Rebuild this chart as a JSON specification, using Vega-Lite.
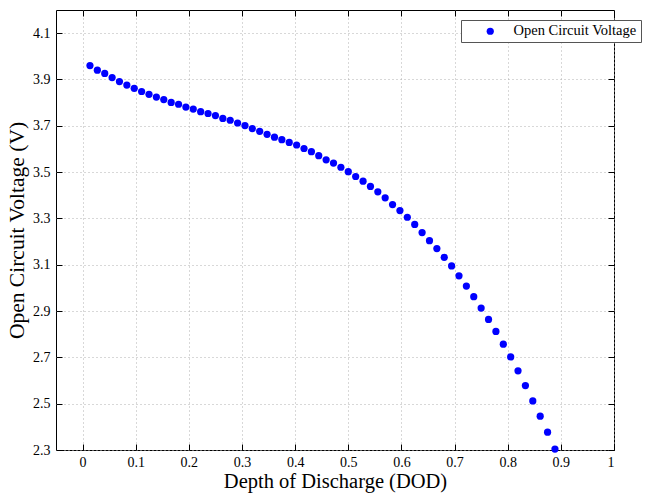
{
  "$schema": "https://vega.github.io/schema/vega-lite/v6.json",
  "width": 558,
  "height": 440,
  "autosize": "none",
  "padding": {"left": 56, "top": 10, "right": 33, "bottom": 46},
  "background": "white",
  "config": {
    "font": "Liberation Serif",
    "view": {"stroke": "black", "strokeWidth": 1},
    "axis": {
      "domain": false,
      "grid": true,
      "gridColor": "#b0b0b0",
      "gridDash": [1, 3],
      "gridWidth": 1,
      "tickColor": "black",
      "tickSize": -6,
      "labelFont": "Liberation Serif",
      "labelFontSize": 14,
      "labelColor": "black",
      "labelPadding": 12,
      "titleFont": "Liberation Serif",
      "titleFontWeight": "normal",
      "titleColor": "black"
    }
  },
  "data": {
    "values": [
      {"dod": 0.0139, "ocv": 3.960},
      {"dod": 0.0278, "ocv": 3.940},
      {"dod": 0.0417, "ocv": 3.926},
      {"dod": 0.0556, "ocv": 3.908},
      {"dod": 0.0694, "ocv": 3.891},
      {"dod": 0.0833, "ocv": 3.876},
      {"dod": 0.0972, "ocv": 3.862},
      {"dod": 0.1111, "ocv": 3.848},
      {"dod": 0.1250, "ocv": 3.836},
      {"dod": 0.1389, "ocv": 3.824},
      {"dod": 0.1528, "ocv": 3.813},
      {"dod": 0.1667, "ocv": 3.801},
      {"dod": 0.1806, "ocv": 3.793},
      {"dod": 0.1944, "ocv": 3.781},
      {"dod": 0.2083, "ocv": 3.772},
      {"dod": 0.2222, "ocv": 3.761},
      {"dod": 0.2361, "ocv": 3.753},
      {"dod": 0.2500, "ocv": 3.744},
      {"dod": 0.2639, "ocv": 3.732},
      {"dod": 0.2778, "ocv": 3.724},
      {"dod": 0.2917, "ocv": 3.712},
      {"dod": 0.3056, "ocv": 3.701},
      {"dod": 0.3194, "ocv": 3.688},
      {"dod": 0.3333, "ocv": 3.676},
      {"dod": 0.3472, "ocv": 3.663},
      {"dod": 0.3611, "ocv": 3.651},
      {"dod": 0.3750, "ocv": 3.640},
      {"dod": 0.3889, "ocv": 3.628},
      {"dod": 0.4028, "ocv": 3.617},
      {"dod": 0.4167, "ocv": 3.602},
      {"dod": 0.4306, "ocv": 3.588},
      {"dod": 0.4444, "ocv": 3.571},
      {"dod": 0.4583, "ocv": 3.553},
      {"dod": 0.4722, "ocv": 3.539},
      {"dod": 0.4861, "ocv": 3.521},
      {"dod": 0.5000, "ocv": 3.502},
      {"dod": 0.5139, "ocv": 3.481},
      {"dod": 0.5278, "ocv": 3.461},
      {"dod": 0.5417, "ocv": 3.438},
      {"dod": 0.5556, "ocv": 3.415},
      {"dod": 0.5694, "ocv": 3.389},
      {"dod": 0.5833, "ocv": 3.360},
      {"dod": 0.5972, "ocv": 3.334},
      {"dod": 0.6111, "ocv": 3.305},
      {"dod": 0.6250, "ocv": 3.274},
      {"dod": 0.6389, "ocv": 3.239},
      {"dod": 0.6528, "ocv": 3.204},
      {"dod": 0.6667, "ocv": 3.170},
      {"dod": 0.6806, "ocv": 3.132},
      {"dod": 0.6944, "ocv": 3.095},
      {"dod": 0.7083, "ocv": 3.052},
      {"dod": 0.7222, "ocv": 3.008},
      {"dod": 0.7361, "ocv": 2.962},
      {"dod": 0.7500, "ocv": 2.913},
      {"dod": 0.7639, "ocv": 2.864},
      {"dod": 0.7778, "ocv": 2.812},
      {"dod": 0.7917, "ocv": 2.757},
      {"dod": 0.8056, "ocv": 2.702},
      {"dod": 0.8194, "ocv": 2.642},
      {"dod": 0.8333, "ocv": 2.578},
      {"dod": 0.8472, "ocv": 2.512},
      {"dod": 0.8611, "ocv": 2.446},
      {"dod": 0.8750, "ocv": 2.377},
      {"dod": 0.8889, "ocv": 2.304}
    ]
  },
  "layer": [
    {
      "mark": {"type": "point", "filled": true, "size": 52, "opacity": 1, "clip": false},
      "encoding": {
        "x": {
          "field": "dod", "type": "quantitative",
          "scale": {"domain": [-0.05, 1], "nice": false, "zero": false},
          "axis": {
            "title": "Depth of Discharge (DOD)",
            "titleFontSize": 20.5,
            "titlePadding": 2,
            "labelPadding": 11,
            "values": [0, 0.1, 0.2, 0.3, 0.4, 0.5, 0.6, 0.7, 0.8, 0.9, 1],
            "format": "~g"
          }
        },
        "y": {
          "field": "ocv", "type": "quantitative",
          "scale": {"domain": [2.3, 4.2], "nice": false, "zero": false},
          "axis": {
            "title": "Open Circuit Voltage (V)",
            "titleFontSize": 21.5,
            "titlePadding": 4,
            "values": [2.3, 2.5, 2.7, 2.9, 3.1, 3.3, 3.5, 3.7, 3.9, 4.1],
            "format": ".1f"
          }
        },
        "color": {
          "datum": "Open Circuit Voltage",
          "type": "nominal",
          "scale": {"range": ["#0000ff"]},
          "legend": {
            "title": null,
            "orient": "none",
            "legendX": 405,
            "legendY": 10,
            "fillColor": "white",
            "strokeColor": "#555555",
            "padding": 4,
            "symbolType": "circle",
            "symbolSize": 52,
            "symbolOffset": 18,
            "labelOffset": 16,
            "labelFont": "Liberation Serif",
            "labelFontSize": 14.5,
            "labelColor": "black"
          }
        }
      }
    },
    {
      "mark": {"type": "point", "opacity": 0},
      "encoding": {
        "x": {
          "field": "dod", "type": "quantitative",
          "axis": {
            "orient": "top", "title": null, "labels": false, "grid": false,
            "values": [0, 0.1, 0.2, 0.3, 0.4, 0.5, 0.6, 0.7, 0.8, 0.9, 1]
          }
        },
        "y": {
          "field": "ocv", "type": "quantitative",
          "axis": {
            "orient": "right", "title": null, "labels": false, "grid": false,
            "values": [2.3, 2.5, 2.7, 2.9, 3.1, 3.3, 3.5, 3.7, 3.9, 4.1]
          }
        }
      }
    }
  ],
  "resolve": {"axis": {"x": "independent", "y": "independent"}}
}
